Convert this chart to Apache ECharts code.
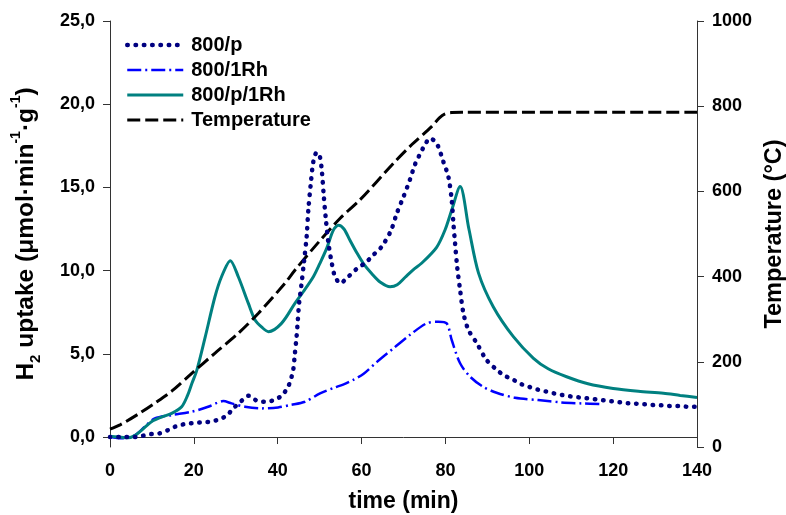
<!DOCTYPE html>
<html>
<head>
<meta charset="utf-8">
<script src="https://cdn.jsdelivr.net/npm/echarts@6/dist/echarts.min.js"></script>
<style>
html,body{margin:0;padding:0;background:#fff;}
#chart{width:786px;height:515px;}
</style>
</head>
<body>
<div id="chart"></div>
<script>
// ---- Data ----
const seriesNames = ['800/p', '800/1Rh', '800/p/1Rh', 'Temperature'];

const pTime = [0, 3, 6, 7.9, 9.9, 11.8, 13.9, 15.9, 17.9, 19.9, 21.9, 23.9, 25.8, 27.8, 29.4, 31.4, 33.1, 35.2, 37.1, 39.1, 40.9, 42.4, 43.2, 43.7, 44.1, 44.5, 44.8, 45.1, 45.6, 46.3, 46.9, 47.3, 47.9, 48.5, 49.3, 50.0, 50.5, 51, 51.5, 52.1, 52.9, 53.6, 54.9, 56.8, 59, 61, 62.8, 64.8, 67, 68.4, 70, 71.5, 72.7, 73.9, 75.1, 76.3, 77.9, 79.5, 80.7, 81.5, 81.9, 82.3, 82.8, 83.5, 84.3, 85.5, 87.5, 89.8, 92.2, 94, 96, 97.9, 99.9, 101.9, 103.9, 105.9, 107.9, 109.9, 111.9, 113.9, 115.9, 117.9, 119.9, 121.8, 123.8, 125.8, 127.9, 129.9, 131.8, 133.8, 135.8, 137.8, 140];
const pVal = [0, 0, 0, 0.08, 0.18, 0.22, 0.42, 0.66, 0.78, 0.84, 0.88, 0.92, 1.04, 1.28, 1.72, 2.18, 2.48, 2.16, 2.12, 2.22, 2.48, 2.98, 3.53, 4.03, 5.03, 6.03, 7.03, 8.03, 9.03, 10.6, 12.04, 13.64, 15.25, 16.55, 17.1, 16.9, 16.05, 14.44, 13.04, 11.64, 10.44, 9.7, 9.24, 9.63, 10.14, 10.48, 10.94, 11.44, 12.4, 13.44, 14.44, 15.44, 16.35, 16.99, 17.55, 17.95, 17.65, 16.55, 15.64, 14.24, 12.84, 11.64, 10.23, 8.83, 7.43, 6.43, 5.63, 4.63, 4.05, 3.7, 3.47, 3.2, 3.02, 2.86, 2.74, 2.62, 2.52, 2.44, 2.38, 2.32, 2.26, 2.2, 2.14, 2.08, 2.02, 2.0, 1.96, 1.92, 1.9, 1.86, 1.86, 1.82, 1.82];

const rhTime = [0, 2.8, 6, 8.3, 10.7, 14.7, 19.5, 23.4, 25.5, 27, 29, 32.2, 36.2, 40.1, 43, 46.5, 50.1, 53.3, 55.6, 58, 60.5, 63.6, 67.6, 71.5, 75.5, 78.3, 80.3, 81.5, 83.5, 85.9, 89, 92.2, 96.6, 102.1, 107.7, 112.5, 116.9];
const rhVal = [0, -0.08, 0.12, 0.62, 1.12, 1.32, 1.52, 1.82, 2.05, 2.16, 2.02, 1.82, 1.72, 1.78, 1.92, 2.12, 2.62, 2.95, 3.15, 3.43, 3.8, 4.5, 5.33, 6.13, 6.83, 6.93, 6.83, 5.83, 4.43, 3.62, 3.02, 2.66, 2.36, 2.22, 2.08, 2.02, 1.98];

const prhTime = [0, 2, 4.3, 6, 7.5, 9.9, 12.3, 14.7, 17.1, 18.5, 19.5, 20.7, 22.7, 25, 26.6, 28.7, 30.6, 33, 34.6, 36.2, 37.8, 40.9, 44.1, 46.1, 48.5, 50, 51.7, 53.3, 54.5, 55.8, 57.2, 58.8, 60.4, 62.5, 64.5, 66.8, 68.5, 70.4, 72.3, 74.3, 77.9, 79.9, 81.5, 83.5, 85.6, 87.9, 91.4, 96.2, 101, 104.5, 108.9, 114, 120, 126, 132, 136, 140];
const prhVal = [0.05, 0.0, -0.05, 0.1, 0.4, 0.92, 1.2, 1.42, 1.82, 2.5, 3.2, 4.0, 6.0, 8.4, 9.63, 10.6, 9.63, 8.03, 7.03, 6.6, 6.33, 6.83, 8.03, 8.73, 9.63, 10.4, 11.35, 12.45, 12.72, 12.5, 11.84, 11.1, 10.44, 9.8, 9.3, 9.03, 9.15, 9.6, 10.05, 10.44, 11.4, 12.44, 13.64, 15.05, 12.5, 9.85, 7.83, 6.03, 4.73, 4.1, 3.62, 3.2, 2.92, 2.75, 2.63, 2.5, 2.38];

const tempTime = [0, 2.4, 6.7, 10.7, 14.7, 19.5, 25, 30.6, 35.4, 41.7, 44.1, 49.5, 54.9, 59.6, 67.6, 72, 76.7, 78.5, 79.9, 81.5, 83.9, 140];
const tempVal = [42, 52, 77, 103, 131, 173, 220, 267, 314, 384, 415, 478, 537, 580, 666, 710, 752, 772, 782, 785, 786, 786];

const xTicks = [0, 20, 40, 60, 80, 100, 120, 140];
const leftTicks = [0, 5, 10, 15, 20, 25];
const rightTicks = [0, 200, 400, 600, 800, 1000];

// ---- Chart ----
const pairs = (t, v) => t.map((x, i) => [x, v[i]]);
const FONT = '"Liberation Sans", Arial, sans-serif';
const axisColor = '#333';

const chart = echarts.init(document.getElementById('chart'), null, {renderer: 'canvas'});
chart.setOption({
  animation: false,
  backgroundColor: '#fff',
  textStyle: {fontFamily: FONT},
  grid: {left: 110, right: 89, top: 21, bottom: 68, containLabel: false, outerBoundsMode: 'none'},
  legend: {
    data: seriesNames,
    orient: 'vertical',
    left: 120,
    top: 30,
    itemWidth: 56,
    itemHeight: 20,
    itemGap: 5,
    itemStyle: {opacity: 0},
    lineStyle: {width: 'inherit'},
    textStyle: {fontFamily: FONT, fontWeight: 'bold', fontSize: 20, color: '#000', padding: [0, 0, 0, 3]}
  },
  xAxis: {
    type: 'value',
    min: xTicks[0], max: xTicks[xTicks.length - 1], interval: 20,
    name: 'time (min)',
    nameLocation: 'middle',
    nameGap: 43,
    nameTextStyle: {fontFamily: FONT, fontWeight: 'bold', fontSize: 23, color: '#000'},
    axisLine: {show: true, lineStyle: {color: axisColor, width: 1}},
    axisTick: {show: true, inside: false, length: 7, lineStyle: {color: axisColor}},
    axisLabel: {fontFamily: FONT, fontWeight: 'bold', fontSize: 18, color: '#000', margin: 15},
    splitLine: {show: false}
  },
  yAxis: [
    {
      type: 'value',
      position: 'left',
      min: -0.6, max: 25,
      name: 'H{sub|2} uptake (μmol·min{sup|-1}·g{sup|-1})',
      nameLocation: 'middle',
      nameGap: 71,
      nameRotate: 90,
      nameTextStyle: {
        fontFamily: FONT, fontWeight: 'bold', fontSize: 24.5, color: '#000',
        rich: {
          sub: {fontFamily: FONT, fontWeight: 'bold', fontSize: 15, color: '#000', verticalAlign: 'bottom', lineHeight: 15, padding: [0, 0, -4, 0]},
          sup: {fontFamily: FONT, fontWeight: 'bold', fontSize: 14, color: '#000', verticalAlign: 'top', lineHeight: 14, padding: [-5, 0, 0, 0]}
        }
      },
      axisLine: {show: true, lineStyle: {color: axisColor, width: 1}},
      axisTick: {show: true, inside: false, length: 7, lineStyle: {color: axisColor}, customValues: leftTicks},
      axisLabel: {
        fontFamily: FONT, fontWeight: 'bold', fontSize: 18, color: '#000', margin: 15,
        customValues: leftTicks,
        formatter: v => v.toFixed(1).replace('.', ',')
      },
      splitLine: {show: false}
    },
    {
      type: 'value',
      position: 'right',
      min: rightTicks[0], max: rightTicks[rightTicks.length - 1], interval: 200,
      name: 'Temperature (°C)',
      nameLocation: 'middle',
      nameGap: 65,
      nameRotate: 90,
      nameTextStyle: {fontFamily: FONT, fontWeight: 'bold', fontSize: 23.5, color: '#000'},
      axisLine: {show: true, lineStyle: {color: axisColor, width: 1}},
      axisTick: {show: true, inside: false, length: 7, lineStyle: {color: axisColor}},
      axisLabel: {fontFamily: FONT, fontWeight: 'bold', fontSize: 18, color: '#000', margin: 15, formatter: v => String(v)},
      splitLine: {show: false}
    }
  ],
  series: [
    {
      name: seriesNames[0], type: 'line', yAxisIndex: 0,
      data: pairs(pTime, pVal),
      smooth: 0.3, symbol: 'none', showSymbol: false,
      lineStyle: {color: '#000080', width: 4.5, type: [0.5, 7.8], cap: 'round'},
      itemStyle: {color: '#000080'}, z: 3
    },
    {
      name: seriesNames[1], type: 'line', yAxisIndex: 0,
      data: pairs(rhTime, rhVal),
      smooth: 0.3, symbol: 'none', showSymbol: false,
      lineStyle: {color: '#0000ff', width: 2.5, type: [14, 4, 2, 4]},
      itemStyle: {color: '#0000ff'}, z: 2
    },
    {
      name: seriesNames[2], type: 'line', yAxisIndex: 0,
      data: pairs(prhTime, prhVal),
      smooth: 0.3, symbol: 'none', showSymbol: false,
      lineStyle: {color: '#008080', width: 3},
      itemStyle: {color: '#008080'}, z: 2
    },
    {
      name: seriesNames[3], type: 'line', yAxisIndex: 1,
      data: pairs(tempTime, tempVal),
      smooth: 0.3, symbol: 'none', showSymbol: false,
      lineStyle: {color: '#000000', width: 3, type: [13, 5]},
      itemStyle: {color: '#000000'}, z: 2
    }
  ]
});
</script>
</body>
</html>
